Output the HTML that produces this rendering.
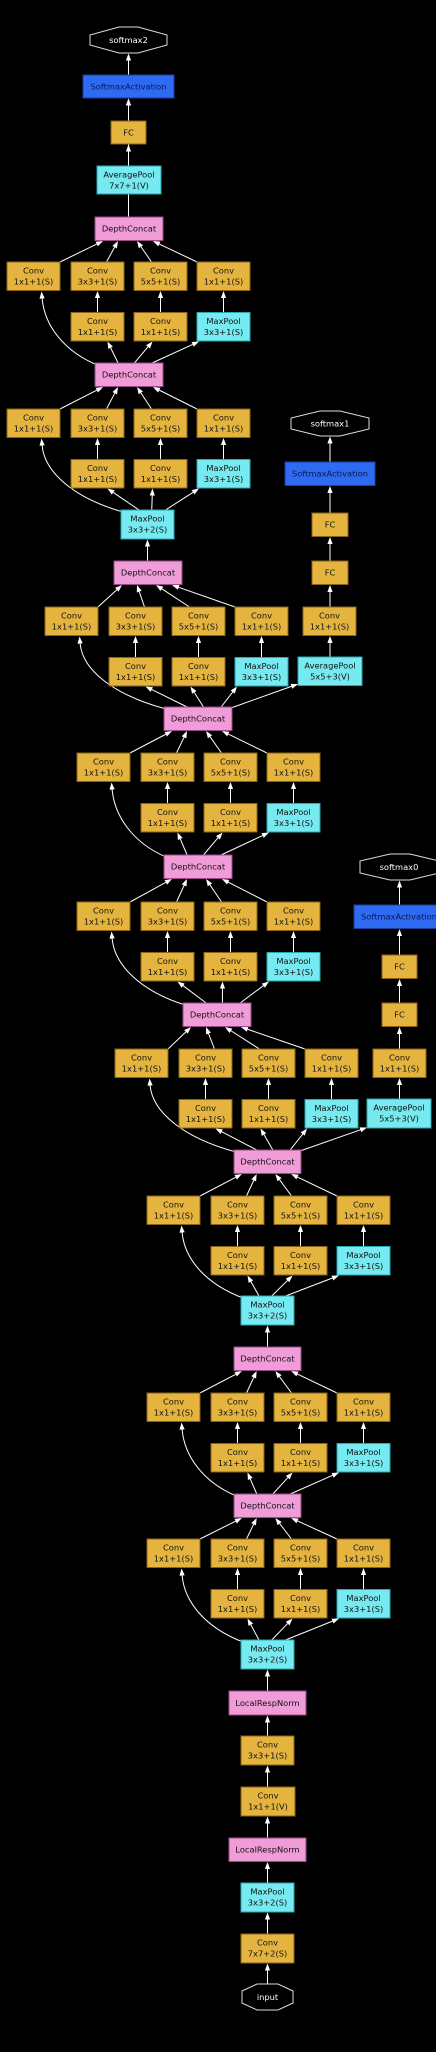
<!DOCTYPE html>
<html><head><meta charset="utf-8">
<style>
html,body{margin:0;padding:0;background:#000;}
svg{display:block;}
.c{fill:#E4B43F;stroke:#8a6418;stroke-width:1}
.m{fill:#76EAF0;stroke:#2aa8b0;stroke-width:1}
.p{fill:#F09CD8;stroke:#9a4a88;stroke-width:1}
.b{fill:#2E6AF2;stroke:#1a3fa0;stroke-width:1}
.o{fill:#000;stroke:#ddd;stroke-width:1}
text{font-family:"DejaVu Sans","Liberation Sans",sans-serif;font-size:8.3px;text-anchor:middle;fill:#111}
.w{fill:#fff}
.bt{fill:#0a1a4a}
</style></head><body>
<svg id="s" width="436" height="2052" viewBox="0 0 436 2052" xmlns="http://www.w3.org/2000/svg">
<g id="edges" stroke="#fff" stroke-width="1" fill="none"></g>
<g id="heads" fill="#fff"></g>

<!-- main top chain -->
<polygon class="o" points="119,27 138,27 167,35 167,45 138,53 119,53 90,45 90,35"/><text class="w" x="128.5" y="43">softmax2</text>
<rect class="b" x="83" y="75" width="91" height="23"/><text class="bt" x="128.5" y="89.5">SoftmaxActivation</text>
<rect class="c" x="111" y="121" width="35" height="23"/><text x="128.5" y="135.5">FC</text>
<rect class="m" x="97" y="166" width="64" height="28"/><text x="129" y="177.5">AveragePool</text><text x="129" y="188.5">7x7+1(V)</text>

<!-- DepthConcats / main chain nodes -->
<rect class="p" x="95" y="217" width="68" height="23.5"/><text x="129" y="231.7">DepthConcat</text>
<rect class="p" x="95" y="363" width="68" height="23.5"/><text x="129" y="377.7">DepthConcat</text>
<rect class="m" x="121" y="510" width="53" height="29"/><text x="147.5" y="521.7">MaxPool</text><text x="147.5" y="532.7">3x3+2(S)</text>
<rect class="p" x="114" y="561" width="68" height="23.5"/><text x="148" y="575.7">DepthConcat</text>
<rect class="p" x="164" y="707" width="68" height="23.5"/><text x="198" y="721.7">DepthConcat</text>
<rect class="p" x="164" y="855" width="68" height="23.5"/><text x="198" y="869.7">DepthConcat</text>
<rect class="p" x="183" y="1003" width="68" height="23.5"/><text x="217" y="1017.7">DepthConcat</text>
<rect class="p" x="234" y="1150" width="67" height="23.5"/><text x="267.5" y="1164.7">DepthConcat</text>
<rect class="m" x="241" y="1296" width="53" height="29"/><text x="267.5" y="1307.7">MaxPool</text><text x="267.5" y="1318.7">3x3+2(S)</text>
<rect class="p" x="234" y="1347" width="67" height="23.5"/><text x="267.5" y="1361.7">DepthConcat</text>
<rect class="p" x="234" y="1494" width="67" height="23.5"/><text x="267.5" y="1508.7">DepthConcat</text>
<rect class="m" x="241" y="1640" width="53" height="29"/><text x="267.5" y="1651.7">MaxPool</text><text x="267.5" y="1662.7">3x3+2(S)</text>
<rect class="p" x="229" y="1691" width="77" height="24"/><text x="267.5" y="1706">LocalRespNorm</text>
<rect class="c" x="241" y="1736" width="53" height="29"/><text x="267.5" y="1747.7">Conv</text><text x="267.5" y="1758.7">3x3+1(S)</text>
<rect class="c" x="241" y="1787" width="54" height="29"/><text x="268" y="1798.7">Conv</text><text x="268" y="1809.7">1x1+1(V)</text>
<rect class="p" x="229" y="1838" width="77" height="23.5"/><text x="267.5" y="1852.7">LocalRespNorm</text>
<rect class="m" x="241" y="1883" width="53" height="29"/><text x="267.5" y="1894.7">MaxPool</text><text x="267.5" y="1905.7">3x3+2(S)</text>
<rect class="c" x="241" y="1934" width="53" height="29"/><text x="267.5" y="1945.7">Conv</text><text x="267.5" y="1956.7">7x7+2(S)</text>
<polygon class="o" points="257,1984 278,1984 293,1991 293,2003 278,2010 257,2010 242,2003 242,1991"/><text class="w" x="267.5" y="2000">input</text>

<!-- aux1 -->
<polygon class="o" points="320,411 340,411 369,418 369,429 340,436 320,436 291,429 291,418"/><text class="w" x="330" y="426.5">softmax1</text>
<rect class="b" x="285" y="462" width="90" height="23.5"/><text class="bt" x="330" y="476.7">SoftmaxActivation</text>
<rect class="c" x="312" y="513" width="36" height="23.5"/><text x="330" y="527.7">FC</text>
<rect class="c" x="312" y="561" width="36" height="23.5"/><text x="330" y="575.7">FC</text>
<rect class="c" x="303" y="607" width="53" height="28.5"/><text x="329.5" y="618.7">Conv</text><text x="329.5" y="629.7">1x1+1(S)</text>
<rect class="m" x="298" y="657" width="64" height="28.5"/><text x="330" y="668.7">AveragePool</text><text x="330" y="679.7">5x5+3(V)</text>

<!-- aux0 -->
<polygon class="o" points="390,854 410,854 439,861 439,873 410,880 390,880 360,873 360,861"/><text class="w" x="399" y="870">softmax0</text>
<rect class="b" x="354" y="905" width="90" height="23.5"/><text class="bt" x="399" y="919.7">SoftmaxActivation</text>
<rect class="c" x="382" y="955" width="35" height="23.5"/><text x="399.5" y="969.7">FC</text>
<rect class="c" x="382" y="1003" width="35" height="23.5"/><text x="399.5" y="1017.7">FC</text>
<rect class="c" x="373" y="1049" width="53" height="28.5"/><text x="399.5" y="1060.7">Conv</text><text x="399.5" y="1071.7">1x1+1(S)</text>
<rect class="m" x="367" y="1099" width="64" height="29"/><text x="399" y="1110.7">AveragePool</text><text x="399" y="1121.7">5x5+3(V)</text>

<!-- inception blocks -->
<g transform="translate(7,262)">
<rect class="c" x="0" y="0" width="53" height="28.5"/><text x="26.5" y="11.7">Conv</text><text x="26.5" y="22.7">1x1+1(S)</text>
<rect class="c" x="64" y="0" width="53" height="28.5"/><text x="90.5" y="11.7">Conv</text><text x="90.5" y="22.7">3x3+1(S)</text>
<rect class="c" x="127" y="0" width="53" height="28.5"/><text x="153.5" y="11.7">Conv</text><text x="153.5" y="22.7">5x5+1(S)</text>
<rect class="c" x="190" y="0" width="53" height="28.5"/><text x="216.5" y="11.7">Conv</text><text x="216.5" y="22.7">1x1+1(S)</text>
<rect class="c" x="64" y="50.5" width="53" height="28.5"/><text x="90.5" y="62.2">Conv</text><text x="90.5" y="73.2">1x1+1(S)</text>
<rect class="c" x="127" y="50.5" width="53" height="28.5"/><text x="153.5" y="62.2">Conv</text><text x="153.5" y="73.2">1x1+1(S)</text>
<rect class="m" x="190" y="50.5" width="53" height="28.5"/><text x="216.5" y="62.2">MaxPool</text><text x="216.5" y="73.2">3x3+1(S)</text>
</g>
<g transform="translate(7,409)">
<rect class="c" x="0" y="0" width="53" height="28.5"/><text x="26.5" y="11.7">Conv</text><text x="26.5" y="22.7">1x1+1(S)</text>
<rect class="c" x="64" y="0" width="53" height="28.5"/><text x="90.5" y="11.7">Conv</text><text x="90.5" y="22.7">3x3+1(S)</text>
<rect class="c" x="127" y="0" width="53" height="28.5"/><text x="153.5" y="11.7">Conv</text><text x="153.5" y="22.7">5x5+1(S)</text>
<rect class="c" x="190" y="0" width="53" height="28.5"/><text x="216.5" y="11.7">Conv</text><text x="216.5" y="22.7">1x1+1(S)</text>
<rect class="c" x="64" y="50.5" width="53" height="28.5"/><text x="90.5" y="62.2">Conv</text><text x="90.5" y="73.2">1x1+1(S)</text>
<rect class="c" x="127" y="50.5" width="53" height="28.5"/><text x="153.5" y="62.2">Conv</text><text x="153.5" y="73.2">1x1+1(S)</text>
<rect class="m" x="190" y="50.5" width="53" height="28.5"/><text x="216.5" y="62.2">MaxPool</text><text x="216.5" y="73.2">3x3+1(S)</text>
</g>
<g transform="translate(45,607)">
<rect class="c" x="0" y="0" width="53" height="28.5"/><text x="26.5" y="11.7">Conv</text><text x="26.5" y="22.7">1x1+1(S)</text>
<rect class="c" x="64" y="0" width="53" height="28.5"/><text x="90.5" y="11.7">Conv</text><text x="90.5" y="22.7">3x3+1(S)</text>
<rect class="c" x="127" y="0" width="53" height="28.5"/><text x="153.5" y="11.7">Conv</text><text x="153.5" y="22.7">5x5+1(S)</text>
<rect class="c" x="190" y="0" width="53" height="28.5"/><text x="216.5" y="11.7">Conv</text><text x="216.5" y="22.7">1x1+1(S)</text>
<rect class="c" x="64" y="50.5" width="53" height="28.5"/><text x="90.5" y="62.2">Conv</text><text x="90.5" y="73.2">1x1+1(S)</text>
<rect class="c" x="127" y="50.5" width="53" height="28.5"/><text x="153.5" y="62.2">Conv</text><text x="153.5" y="73.2">1x1+1(S)</text>
<rect class="m" x="190" y="50.5" width="53" height="28.5"/><text x="216.5" y="62.2">MaxPool</text><text x="216.5" y="73.2">3x3+1(S)</text>
</g>
<g transform="translate(77,753)">
<rect class="c" x="0" y="0" width="53" height="28.5"/><text x="26.5" y="11.7">Conv</text><text x="26.5" y="22.7">1x1+1(S)</text>
<rect class="c" x="64" y="0" width="53" height="28.5"/><text x="90.5" y="11.7">Conv</text><text x="90.5" y="22.7">3x3+1(S)</text>
<rect class="c" x="127" y="0" width="53" height="28.5"/><text x="153.5" y="11.7">Conv</text><text x="153.5" y="22.7">5x5+1(S)</text>
<rect class="c" x="190" y="0" width="53" height="28.5"/><text x="216.5" y="11.7">Conv</text><text x="216.5" y="22.7">1x1+1(S)</text>
<rect class="c" x="64" y="50.5" width="53" height="28.5"/><text x="90.5" y="62.2">Conv</text><text x="90.5" y="73.2">1x1+1(S)</text>
<rect class="c" x="127" y="50.5" width="53" height="28.5"/><text x="153.5" y="62.2">Conv</text><text x="153.5" y="73.2">1x1+1(S)</text>
<rect class="m" x="190" y="50.5" width="53" height="28.5"/><text x="216.5" y="62.2">MaxPool</text><text x="216.5" y="73.2">3x3+1(S)</text>
</g>
<g transform="translate(77,902)">
<rect class="c" x="0" y="0" width="53" height="28.5"/><text x="26.5" y="11.7">Conv</text><text x="26.5" y="22.7">1x1+1(S)</text>
<rect class="c" x="64" y="0" width="53" height="28.5"/><text x="90.5" y="11.7">Conv</text><text x="90.5" y="22.7">3x3+1(S)</text>
<rect class="c" x="127" y="0" width="53" height="28.5"/><text x="153.5" y="11.7">Conv</text><text x="153.5" y="22.7">5x5+1(S)</text>
<rect class="c" x="190" y="0" width="53" height="28.5"/><text x="216.5" y="11.7">Conv</text><text x="216.5" y="22.7">1x1+1(S)</text>
<rect class="c" x="64" y="50.5" width="53" height="28.5"/><text x="90.5" y="62.2">Conv</text><text x="90.5" y="73.2">1x1+1(S)</text>
<rect class="c" x="127" y="50.5" width="53" height="28.5"/><text x="153.5" y="62.2">Conv</text><text x="153.5" y="73.2">1x1+1(S)</text>
<rect class="m" x="190" y="50.5" width="53" height="28.5"/><text x="216.5" y="62.2">MaxPool</text><text x="216.5" y="73.2">3x3+1(S)</text>
</g>
<g transform="translate(115,1049)">
<rect class="c" x="0" y="0" width="53" height="28.5"/><text x="26.5" y="11.7">Conv</text><text x="26.5" y="22.7">1x1+1(S)</text>
<rect class="c" x="64" y="0" width="53" height="28.5"/><text x="90.5" y="11.7">Conv</text><text x="90.5" y="22.7">3x3+1(S)</text>
<rect class="c" x="127" y="0" width="53" height="28.5"/><text x="153.5" y="11.7">Conv</text><text x="153.5" y="22.7">5x5+1(S)</text>
<rect class="c" x="190" y="0" width="53" height="28.5"/><text x="216.5" y="11.7">Conv</text><text x="216.5" y="22.7">1x1+1(S)</text>
<rect class="c" x="64" y="50.5" width="53" height="28.5"/><text x="90.5" y="62.2">Conv</text><text x="90.5" y="73.2">1x1+1(S)</text>
<rect class="c" x="127" y="50.5" width="53" height="28.5"/><text x="153.5" y="62.2">Conv</text><text x="153.5" y="73.2">1x1+1(S)</text>
<rect class="m" x="190" y="50.5" width="53" height="28.5"/><text x="216.5" y="62.2">MaxPool</text><text x="216.5" y="73.2">3x3+1(S)</text>
</g>
<g transform="translate(147,1196)">
<rect class="c" x="0" y="0" width="53" height="28.5"/><text x="26.5" y="11.7">Conv</text><text x="26.5" y="22.7">1x1+1(S)</text>
<rect class="c" x="64" y="0" width="53" height="28.5"/><text x="90.5" y="11.7">Conv</text><text x="90.5" y="22.7">3x3+1(S)</text>
<rect class="c" x="127" y="0" width="53" height="28.5"/><text x="153.5" y="11.7">Conv</text><text x="153.5" y="22.7">5x5+1(S)</text>
<rect class="c" x="190" y="0" width="53" height="28.5"/><text x="216.5" y="11.7">Conv</text><text x="216.5" y="22.7">1x1+1(S)</text>
<rect class="c" x="64" y="50.5" width="53" height="28.5"/><text x="90.5" y="62.2">Conv</text><text x="90.5" y="73.2">1x1+1(S)</text>
<rect class="c" x="127" y="50.5" width="53" height="28.5"/><text x="153.5" y="62.2">Conv</text><text x="153.5" y="73.2">1x1+1(S)</text>
<rect class="m" x="190" y="50.5" width="53" height="28.5"/><text x="216.5" y="62.2">MaxPool</text><text x="216.5" y="73.2">3x3+1(S)</text>
</g>
<g transform="translate(147,1393)">
<rect class="c" x="0" y="0" width="53" height="28.5"/><text x="26.5" y="11.7">Conv</text><text x="26.5" y="22.7">1x1+1(S)</text>
<rect class="c" x="64" y="0" width="53" height="28.5"/><text x="90.5" y="11.7">Conv</text><text x="90.5" y="22.7">3x3+1(S)</text>
<rect class="c" x="127" y="0" width="53" height="28.5"/><text x="153.5" y="11.7">Conv</text><text x="153.5" y="22.7">5x5+1(S)</text>
<rect class="c" x="190" y="0" width="53" height="28.5"/><text x="216.5" y="11.7">Conv</text><text x="216.5" y="22.7">1x1+1(S)</text>
<rect class="c" x="64" y="50.5" width="53" height="28.5"/><text x="90.5" y="62.2">Conv</text><text x="90.5" y="73.2">1x1+1(S)</text>
<rect class="c" x="127" y="50.5" width="53" height="28.5"/><text x="153.5" y="62.2">Conv</text><text x="153.5" y="73.2">1x1+1(S)</text>
<rect class="m" x="190" y="50.5" width="53" height="28.5"/><text x="216.5" y="62.2">MaxPool</text><text x="216.5" y="73.2">3x3+1(S)</text>
</g>
<g transform="translate(147,1539)">
<rect class="c" x="0" y="0" width="53" height="28.5"/><text x="26.5" y="11.7">Conv</text><text x="26.5" y="22.7">1x1+1(S)</text>
<rect class="c" x="64" y="0" width="53" height="28.5"/><text x="90.5" y="11.7">Conv</text><text x="90.5" y="22.7">3x3+1(S)</text>
<rect class="c" x="127" y="0" width="53" height="28.5"/><text x="153.5" y="11.7">Conv</text><text x="153.5" y="22.7">5x5+1(S)</text>
<rect class="c" x="190" y="0" width="53" height="28.5"/><text x="216.5" y="11.7">Conv</text><text x="216.5" y="22.7">1x1+1(S)</text>
<rect class="c" x="64" y="50.5" width="53" height="28.5"/><text x="90.5" y="62.2">Conv</text><text x="90.5" y="73.2">1x1+1(S)</text>
<rect class="c" x="127" y="50.5" width="53" height="28.5"/><text x="153.5" y="62.2">Conv</text><text x="153.5" y="73.2">1x1+1(S)</text>
<rect class="m" x="190" y="50.5" width="53" height="28.5"/><text x="216.5" y="62.2">MaxPool</text><text x="216.5" y="73.2">3x3+1(S)</text>
</g>
</svg>
<script>
(function(){
var NS="http://www.w3.org/2000/svg";
var E=document.getElementById("edges"),H=document.getElementById("heads");
function head(px,py,tx,ty){
  var dx=tx-px,dy=ty-py,L=Math.sqrt(dx*dx+dy*dy);dx/=L;dy/=L;
  var bx=tx-dx*7,by=ty-dy*7,nx=-dy*2.6,ny=dx*2.6;
  var p=document.createElementNS(NS,"polygon");
  p.setAttribute("points",tx+","+ty+" "+(bx+nx)+","+(by+ny)+" "+(bx-nx)+","+(by-ny));
  H.appendChild(p);return [bx,by];
}
function line(x1,y1,x2,y2){
  var b=head(x1,y1,x2,y2);
  var l=document.createElementNS(NS,"line");
  l.setAttribute("x1",x1);l.setAttribute("y1",y1);l.setAttribute("x2",b[0]);l.setAttribute("y2",b[1]);
  E.appendChild(l);
}
function curve(x0,y0,x1,y1,x2,y2,x3,y3){
  var b=head(x2,y2,x3,y3);
  var p=document.createElementNS(NS,"path");
  p.setAttribute("d","M"+x0+","+y0+" C"+x1+","+y1+" "+x2+","+y2+" "+b[0]+","+b[1]);
  E.appendChild(p);
}
function v(x,yb,yt){line(x,yb,x,yt);}
// blocks: x0,y1, out[x,y,w,h], in[x,y,w]
var B=[
 [7,262,[95,217,68,23.5],[95,363,68]],
 [7,409,[95,363,68,23.5],[121,510,53]],
 [45,607,[114,561,68,23.5],[164,707,68]],
 [77,753,[164,707,68,23.5],[164,855,68]],
 [77,902,[164,855,68,23.5],[183,1003,68]],
 [115,1049,[183,1003,68,23.5],[234,1150,67]],
 [147,1196,[234,1150,67,23.5],[241,1296,53]],
 [147,1393,[234,1347,67,23.5],[234,1494,67]],
 [147,1539,[234,1494,67,23.5],[241,1640,53]]
];
B.forEach(function(b){
  var x0=b[0],y1=b[1],O=b[2],I=b[3];
  var cx=[x0+26.5,x0+90.5,x0+153.5,x0+216.5];
  var ob=O[1]+O[3];
  var fr=[8/68,23/68,42/68,58/68];
  var st=[[x0+53,y1],[cx[1]+9,y1],[cx[2]-9,y1],[x0+190,y1]];
  for(var k=0;k<4;k++) line(st[k][0],st[k][1],O[0]+O[2]*fr[k],ob+0.5);
  for(k=1;k<4;k++) v(cx[k],y1+50.5,y1+29);
  var f=[0.34,0.58,0.84],en=[[cx[1]+10,y1+79.5],[cx[2]-8,y1+79.5],[x0+192,y1+79.5]];
  for(k=0;k<3;k++) line(I[0]+I[2]*f[k],I[1],en[k][0],en[k][1]);
  var sx=I[0]+2,sy=I[1]+2,ex=cx[0]+8,ey=y1+29.5;
  curve(sx,sy,sx-0.6*(sx-ex),sy-14,ex+3,ey+34,ex,ey);
});
// straight chains
v(128.5,217,98.5);v(128.5,166,144.5);v(128.5,121,98.5);v(128.5,75,53.5);
v(147.5,561,539.5);
v(267.5,1347,1325.5);
v(267.5,1691,1669.5);v(267.5,1736,1715.5);v(267.5,1787,1765.5);v(267.5,1838,1816.5);
v(267.5,1883,1862);v(267.5,1934,1912.5);v(267.5,1984,1963.5);
// aux1
v(330,657,636);v(330,607,585);v(330,561,537);v(330,513,486);v(330,462,436.5);
line(231,708,298,684);
// aux0
v(399.5,1099,1078);v(399.5,1049,1027);v(399.5,1003,979);v(399.5,955,929);v(399.5,905,880.5);
line(300,1151,367,1127.5);
})();
</script>
</body></html>
